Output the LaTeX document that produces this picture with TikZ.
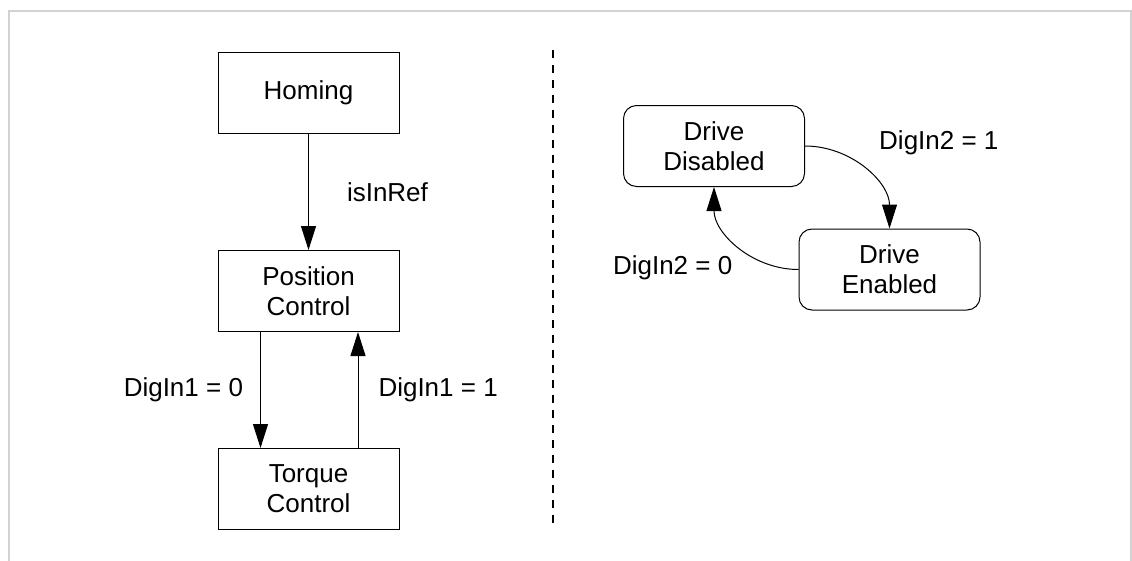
\documentclass[tikz,border=0pt]{standalone}
\usepackage{fontspec}
\setmainfont{Liberation Sans}
\usetikzlibrary{arrows.meta}

\begin{document}
\begin{tikzpicture}[x=1pt,y=-1pt,
  state/.style={draw,line width=1pt,minimum width=181pt,minimum height=81pt,
    inner sep=0pt,align=center,font=\fontsize{26}{30}\selectfont},
  drive/.style={state,rounded corners=13pt},
  lbl/.style={inner sep=0pt,font=\fontsize{26}{30}\selectfont},
  trans/.style={-{Triangle[length=24pt,width=15pt]},line width=1pt}]
  \useasboundingbox (0,0) rectangle (1132,560);
  \draw[gray!35,line width=1.5pt] (9,575) -- (9,11) -- (1131,11) -- (1131,575);
  \draw[line width=1.5pt,dash pattern=on 8pt off 7pt] (553,50) -- (553,523);

  % operating modes
  \node[state] (hom) at (308.5,92.5) {Homing};
  \node[state] (pos) at (308.5,291) {Position\\Control};
  \node[state] (tor) at (308.5,489) {Torque\\Control};
  \draw[trans] (hom) -- (pos)
    node[lbl,midway,anchor=west,xshift=38pt] (ref) {isInRef};
  \draw[trans] ([xshift=-48pt]pos.south) -- ([xshift=-48pt]tor.north)
    node[lbl,midway,anchor=east,xshift=-17pt] (d10) {DigIn1 = 0};
  \draw[trans] ([xshift=49.5pt]tor.north) -- ([xshift=49.5pt]pos.south)
    node[lbl,midway,anchor=west,xshift=20pt] (d11) {DigIn1 = 1};

  % drive enable
  \node[drive] (dis) at (714,146) {Drive\\Disabled};
  \node[drive] (en) at (889.5,269.5) {Drive\\Enabled};
  \draw[trans] (dis.east) to[out=0,in=90] (en.north);
  \draw[trans] (en.west) to[out=180,in=-90] (dis.south);
  \node[lbl,anchor=west] (d21) at ([xshift=74pt,yshift=3pt]dis.east) {DigIn2 = 1};
  \node[lbl,anchor=east] (d20) at ([xshift=-66pt,yshift=2pt]en.west) {DigIn2 = 0};
\end{tikzpicture}
\end{document}
